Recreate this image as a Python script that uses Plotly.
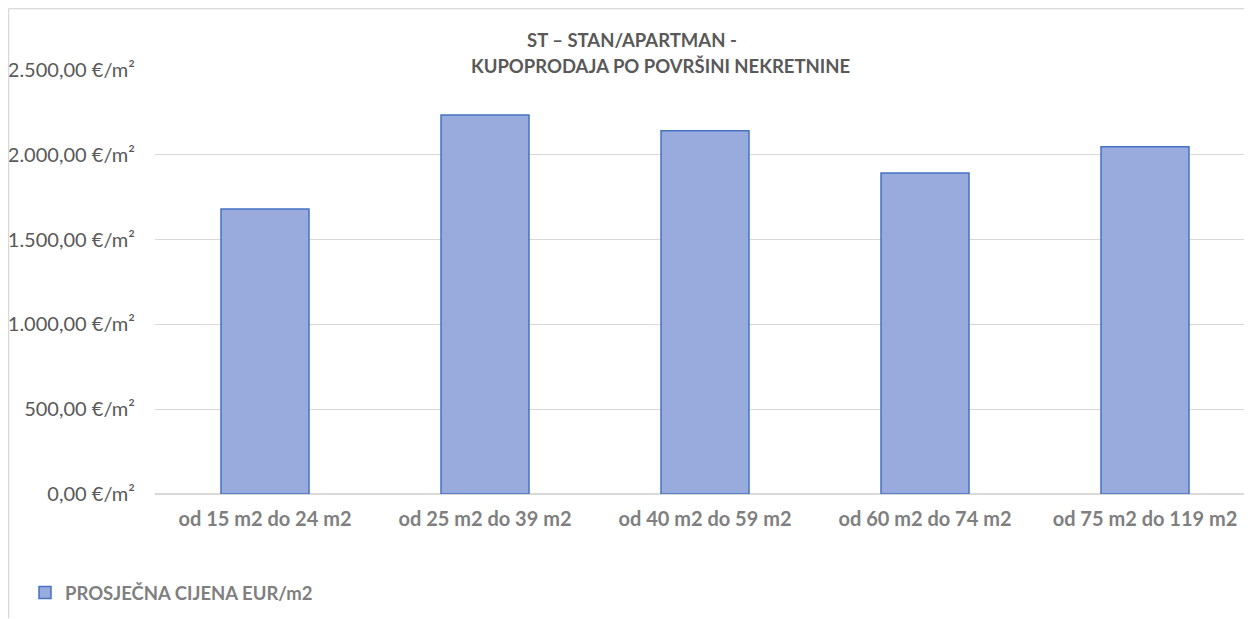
import plotly.graph_objects as go

categories = ["od 15 m2 do 24 m2", "od 25 m2 do 39 m2", "od 40 m2 do 59 m2",
              "od 60 m2 do 74 m2", "od 75 m2 do 119 m2"]
values = [1681, 2235, 2142, 1892, 2048]
series_name = "PROSJEČNA CIJENA EUR/m2"
tick_vals = [0, 500, 1000, 1500, 2000, 2500]
tick_text = ["0,00 €/m²", "500,00 €/m²", "1.000,00 €/m²", "1.500,00 €/m²",
             "2.000,00 €/m²", "2.500,00 €/m²"]
title_lines = ["ST – STAN/APARTMAN -", "KUPOPRODAJA PO POVRŠINI NEKRETNINE"]

# page has an 8px body margin; figure sized to fit the window
OFF = 8
W, H = 1252 - OFF, 619 - OFF
ml, mr, mt, mb = 155 - OFF, 0, 70 - OFF, 619 - 494.5
pw = W - ml - mr
ph = H - mt - mb

font_family = "Lato, Carlito, Calibri, sans-serif"

fig = go.Figure()
fig.add_trace(go.Bar(
    x=categories, y=values, name=series_name, width=0.4,
    marker=dict(color="#99abdc", line=dict(color="#4472c4", width=1.5)),
    showlegend=True,
))

fig.update_layout(
    width=W, height=H,
    margin=dict(l=ml, r=mr, t=mt, b=mb, pad=0),
    paper_bgcolor="white", plot_bgcolor="white",
    font=dict(family=font_family, color="#595959"),
    xaxis=dict(
        range=[-0.5, 4.5 - 3 / 220], showgrid=False, showline=False, zeroline=False,
        ticks="", tickfont=dict(size=20, color="#7f7f7f", family=font_family, weight="bold"),
        ticklabelstandoff=11,
    ),
    yaxis=dict(
        range=[0, 2500], tickvals=tick_vals, ticktext=tick_text,
        showgrid=True, gridcolor="#d9d9d9", gridwidth=1,
        zeroline=True, zerolinecolor="#d9d9d9", zerolinewidth=1.5,
        showline=False, ticks="",
        tickfont=dict(size=20, color="#595959", family=font_family),
        ticklabelstandoff=19,
    ),
    legend=dict(
        orientation="h", xref="container", yref="container",
        x=17 / W, y=1 - (593 - OFF) / H, xanchor="left", yanchor="middle",
        font=dict(size=18.5, color="#7f7f7f", family=font_family, weight="bold"),
        itemwidth=30, bgcolor="rgba(0,0,0,0)",
    ),
    showlegend=True,
)

# title lines
title_font = dict(size=18.5, color="#595959", family=font_family, weight="bold")
fig.add_annotation(text=title_lines[0], xref="paper", yref="paper",
                   x=(632 - 155) / pw, y=1 + (70 - 40) / ph,
                   showarrow=False, xanchor="center", yanchor="middle", font=title_font)
fig.add_annotation(text=title_lines[1], xref="paper", yref="paper",
                   x=(660 - 155) / pw, y=1 + (70 - 66) / ph,
                   showarrow=False, xanchor="center", yanchor="middle", font=title_font)

# chart frame (left and top edges)
fx = (0.5 - ml) / pw
fy = (H - mb - 0.5) / ph
fig.add_shape(type="line", xref="paper", yref="paper",
              x0=fx, x1=fx, y0=-mb / ph, y1=fy,
              line=dict(color="#d9d9d9", width=1.5))
fig.add_shape(type="line", xref="paper", yref="paper",
              x0=fx, x1=1.01, y0=fy, y1=fy,
              line=dict(color="#d9d9d9", width=1.5))

fig.write_html("out.html")
